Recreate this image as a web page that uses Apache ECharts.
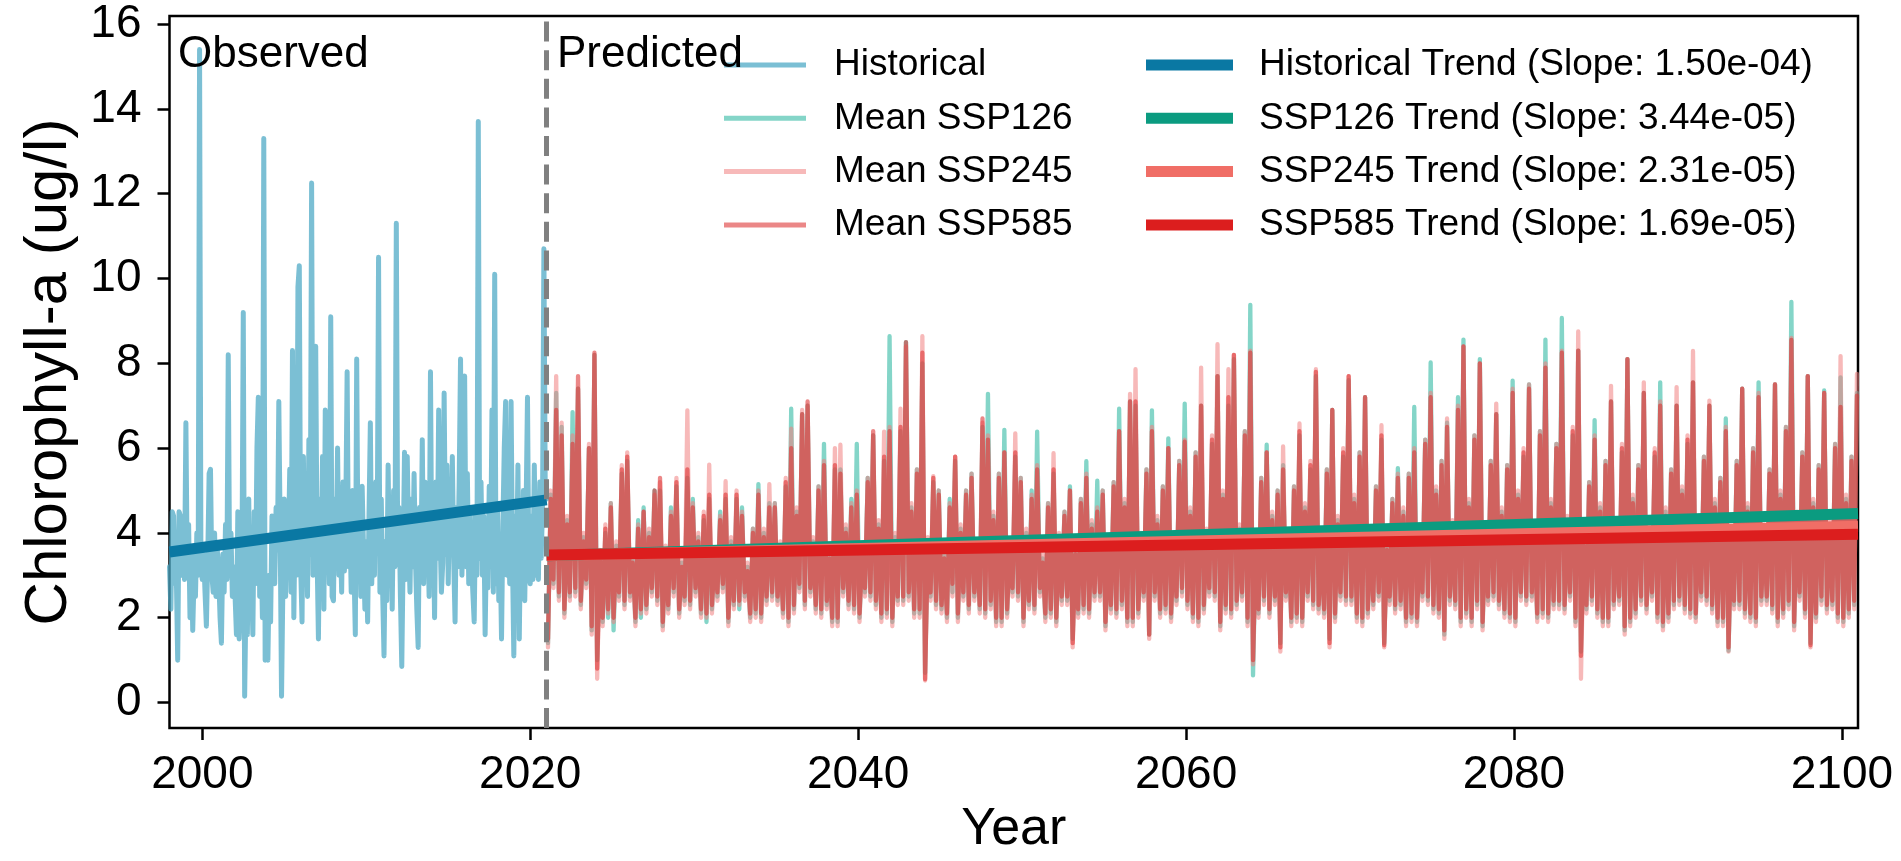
<!DOCTYPE html>
<html><head><meta charset="utf-8">
<script src="https://cdn.jsdelivr.net/npm/echarts@6/dist/echarts.min.js"></script>
<style>html,body{margin:0;padding:0;background:#fff}#c{width:1901px;height:861px}</style>
</head><body><div id="c"></div>
<script>
// ---------- DATA ----------
const histStart = 1998; // monthly values, Jan 1998 .. Jan 2021
const histValues = [
3.2,2.2,4.5,4.4,2.8,3.0,1.0,4.5,4.4,3.0,3.8,2.9,
6.6,3.0,4.2,2.0,3.5,1.7,3.0,2.5,4.0,3.0,15.4,3.2,
2.9,3.5,2.6,1.8,3.4,5.4,5.5,3.0,2.6,4.0,2.5,3.6,
3.0,2.0,1.4,3.5,2.6,4.2,2.9,8.2,3.0,4.0,2.5,3.2,
2.5,1.6,4.5,1.5,2.4,3.0,9.2,0.15,2.5,1.6,4.8,2.0,
3.0,1.6,4.5,2.8,6.0,7.2,2.5,3.8,2.0,13.3,1.0,2.5,
1.0,3.0,1.9,4.4,3.5,2.8,4.6,3.6,7.1,4.0,0.15,2.8,
4.8,2.5,4.2,3.6,5.5,2.6,8.3,2.0,4.5,3.0,9.8,10.3,
3.2,1.9,5.8,3.0,4.5,2.5,6.2,3.5,12.25,3.0,4.0,8.4,
3.5,1.5,4.8,3.0,5.8,2.2,6.9,3.3,4.2,2.8,9.1,2.5,
2.4,4.8,3.4,6.0,3.0,4.0,2.6,5.2,3.1,4.4,7.8,3.2,
4.2,2.6,5.0,3.2,1.6,8.1,3.2,4.6,2.5,5.1,3.6,2.2,
3.8,1.9,4.4,6.6,2.8,4.2,3.0,5.2,3.6,10.5,2.6,4.8,
2.6,1.1,3.8,2.4,5.6,3.0,4.4,2.2,5.0,3.2,11.3,3.6,
4.6,2.5,0.85,3.4,5.9,2.9,5.8,3.8,2.6,4.8,3.2,5.4,
3.4,2.2,1.3,4.6,3.0,6.2,2.8,5.2,3.5,4.2,2.5,7.8,
3.0,4.4,2.0,5.2,3.4,6.9,4.0,2.6,3.3,7.3,3.5,5.6,
2.8,4.8,3.6,5.8,3.4,1.9,4.6,3.2,5.2,8.1,3.0,4.2,
7.7,3.2,5.4,2.8,4.6,3.4,2.6,1.9,4.5,3.0,13.7,3.4,
5.2,3.0,4.4,1.6,3.8,2.7,5.1,3.2,6.9,2.6,10.1,2.8,
4.6,2.4,3.6,1.5,4.2,6.0,7.1,3.0,4.4,2.8,7.1,3.4,
1.1,4.4,3.0,5.6,1.5,4.2,3.2,5.0,2.4,4.6,7.2,3.0,
2.8,4.4,2.9,5.6,3.0,4.8,2.9,5.2,3.4,4.6,10.7,5.0,
4.8
];
const predStart = 2021; // 6 samples per year (bi-monthly), 2021 .. 2100
const ssp126Values = [
1.4,4.9,2.8,7.3,2.5,6.5, 2.1,4.3,2.5,6.85,2.6,7.4, 2.3,3.9,2.8,6.0,1.7,8.2, 1.0,3.5,1.9,4.0,2.0,4.7, 1.7,3.7,2.5,5.4,2.3,5.7,
2.5,3.4,1.9,4.3,2.0,4.6, 2.2,4.0,2.6,5.0,2.4,5.0, 1.8,3.6,2.2,4.6,2.6,5.1, 2.1,3.3,2.4,5.3,2.3,4.8, 2.6,3.9,2.1,4.3,1.9,4.8,
2.2,3.5,2.5,4.5,2.7,4.8, 1.9,3.8,2.3,4.8,2.2,4.6, 2.5,3.2,2.0,4.1,2.1,5.15, 2.0,4.0,2.4,4.7,2.5,4.7, 2.4,3.7,2.1,5.1,1.9,6.93,
2.2,4.5,2.7,6.8,2.3,7.0, 2.6,3.8,2.2,5.1,2.1,6.1, 2.3,3.5,1.9,5.5,1.9,5.5, 2.6,4.1,2.3,4.8,2.2,6.1, 2.0,3.6,2.6,5.3,2.5,6.3,
2.3,4.2,2.0,5.7,2.1,8.64, 1.9,3.9,2.4,6.4,2.4,8.5, 2.5,4.6,2.1,5.5,2.1,8.0, 0.7,3.8,2.5,5.2,2.3,5.0, 2.2,3.5,2.0,4.8,2.6,5.7,
2.0,4.1,2.5,5.0,2.2,5.4, 2.5,3.7,2.2,6.5,2.1,7.28, 2.3,4.4,1.9,5.4,1.9,6.43, 2.1,3.6,2.6,5.8,2.5,5.3, 1.9,4.0,2.3,5.0,2.2,6.39,
2.6,3.4,2.0,4.7,2.1,5.4, 1.9,3.9,2.4,4.5,2.4,5.1, 1.5,3.6,2.1,4.8,2.2,5.69, 2.1,4.2,2.5,5.23,2.5,5.0, 1.8,3.7,2.2,5.2,2.1,6.93,
2.3,4.7,1.9,7.1,1.9,7.0, 2.1,3.9,2.5,5.5,1.6,6.89, 2.5,4.3,2.1,5.1,2.2,6.23, 2.0,3.8,2.4,5.7,2.6,7.05, 2.3,4.5,2.0,5.9,1.9,7.0,
2.2,4.0,2.6,6.1,2.5,7.7, 1.8,4.9,2.2,7.0,2.1,8.1, 2.3,4.1,2.5,6.4,1.9,9.38, 0.64,3.7,2.1,5.3,2.4,6.08, 2.1,4.4,2.4,5.0,1.4,5.6,
2.5,3.9,1.9,5.1,2.0,6.3, 1.9,4.6,2.5,5.5,2.3,7.7, 2.2,3.8,2.1,5.5,1.5,6.9, 2.0,4.3,2.5,5.8,2.4,7.6, 2.4,4.8,2.0,5.9,1.9,7.2,
2.1,4.0,2.3,5.1,2.5,6.2, 1.4,3.7,2.4,4.8,2.2,5.53, 2.3,4.5,1.9,5.4,2.0,6.97, 1.9,3.9,2.5,6.2,2.4,8.02, 2.2,5.0,2.1,5.7,1.6,6.6,
2.4,4.2,2.3,7.2,1.9,8.56, 2.1,4.7,1.9,6.3,2.3,8.1, 1.8,4.0,2.4,5.7,2.5,6.8, 2.3,4.5,2.1,5.6,2.0,7.59, 1.9,4.9,2.5,5.8,2.4,7.5,
2.5,4.1,2.0,6.4,2.1,8.56, 2.0,4.7,2.3,6.1,2.3,9.07, 2.2,4.3,2.5,6.3,1.9,8.3, 1.2,3.8,2.2,5.2,2.4,6.66, 2.1,4.6,1.9,5.7,1.9,7.1,
2.3,4.2,2.4,5.9,1.7,8.1, 1.9,4.8,2.1,5.6,2.4,7.3, 2.2,4.0,2.5,5.8,2.0,7.55, 1.8,4.5,2.0,5.5,2.3,7.0, 2.4,5.0,2.2,6.1,2.1,7.55,
2.0,4.3,2.5,5.8,2.4,7.0, 2.2,4.7,1.9,5.3,1.9,6.7, 1.22,4.0,2.3,5.7,2.3,7.4, 2.1,4.6,2.0,6.0,1.9,7.55, 2.4,4.1,2.4,5.5,2.2,7.5,
1.9,4.9,2.1,6.5,2.3,9.45, 1.8,4.4,2.5,5.9,2.1,7.7, 1.4,4.7,2.0,5.6,2.4,7.36, 2.2,4.2,2.3,6.1,2.0,7.67, 1.9,4.8,2.1,5.8,2.3,7.3
];
const ssp245Values = [
1.3,5.0,2.7,7.7,2.4,6.6, 2.0,4.4,2.4,6.3,2.5,7.4, 2.2,4.0,2.7,6.1,1.6,8.2, 0.56,3.6,1.8,4.2,2.1,4.7, 1.9,3.8,2.4,5.6,2.2,5.9,
2.4,3.5,1.8,4.2,2.1,4.5, 2.1,4.1,2.5,4.9,2.3,5.2, 1.7,3.7,2.1,4.5,2.5,5.3, 2.0,3.4,2.3,6.89,2.2,4.7, 2.5,4.0,2.0,4.5,2.0,5.61,
2.1,3.6,2.4,4.4,2.6,5.22, 1.8,3.9,2.2,5.0,2.3,4.5, 2.4,3.3,1.9,4.1,2.0,5.0, 1.9,4.1,2.3,5.15,2.4,4.7, 2.3,3.8,2.0,5.3,1.8,6.46,
2.1,4.6,2.6,6.9,2.2,7.0, 2.5,3.9,2.1,5.1,2.0,5.7, 2.2,3.6,1.8,6.0,1.8,6.08, 2.5,4.2,2.2,4.7,2.1,5.0, 1.9,3.7,2.5,5.3,2.4,6.3,
2.2,4.3,1.9,6.39,2.0,6.5, 1.8,4.0,2.3,6.93,2.3,8.4, 2.4,4.7,2.0,5.5,2.0,8.64, 0.52,3.9,2.4,5.34,2.2,5.0, 2.1,3.6,1.9,4.7,2.5,5.8,
1.9,4.2,2.4,5.0,2.1,5.4, 2.4,3.8,2.1,6.6,2.0,6.3, 2.2,4.5,1.8,5.4,1.8,5.9, 2.0,3.7,2.5,6.35,2.4,5.3, 1.8,4.1,2.2,4.9,2.1,5.6,
2.5,3.5,1.9,4.7,2.0,5.88, 1.8,4.0,2.3,4.5,2.3,5.0, 1.3,3.7,2.0,4.8,2.1,5.4, 2.0,4.3,2.4,4.6,2.4,5.0, 1.7,3.8,2.1,5.2,2.0,6.4,
2.2,4.8,1.8,7.28,1.8,7.86, 2.0,4.0,2.4,5.5,1.5,6.5, 2.4,4.4,2.0,5.1,2.1,6.0, 1.9,3.9,2.3,5.7,2.5,6.2, 2.2,4.6,1.9,5.9,1.8,7.9,
2.1,4.1,2.5,6.3,2.4,8.45, 1.7,5.0,2.1,7.86,2.0,8.2, 2.2,4.2,2.4,6.4,1.8,8.3, 0.9,3.8,2.0,5.3,2.3,5.9, 2.0,4.5,2.3,5.0,1.2,6.04,
2.4,4.0,1.8,5.1,1.9,6.58, 1.8,4.7,2.4,5.7,2.2,7.86, 2.1,3.9,2.0,5.5,1.3,6.9, 1.9,4.4,2.4,6.0,2.3,7.7, 2.3,4.9,1.9,5.9,1.8,7.2,
2.0,4.1,2.2,5.1,2.4,6.54, 1.3,3.8,2.3,4.8,2.1,5.4, 2.2,4.6,1.8,5.4,1.9,6.0, 1.8,4.0,2.4,6.2,2.3,7.3, 2.1,5.1,2.0,5.7,1.5,6.7,
2.3,4.3,2.2,7.0,1.8,8.4, 2.0,4.8,1.8,6.3,2.2,8.0, 1.7,4.1,2.3,5.7,2.4,7.05, 2.2,4.6,2.0,5.6,1.9,7.4, 1.8,5.0,2.4,6.0,2.3,7.5,
2.4,4.2,1.9,6.4,2.0,8.0, 1.9,4.8,2.2,6.1,2.2,8.3, 2.1,4.4,2.4,6.5,1.8,8.75, 0.56,3.9,2.1,5.2,2.3,6.3, 2.0,4.7,1.8,5.7,1.8,7.47,
2.2,4.3,2.3,6.1,1.6,8.1, 1.8,4.9,2.0,5.6,2.3,7.55, 2.1,4.1,2.4,6.0,1.9,7.1, 1.7,4.6,1.9,5.5,2.2,7.44, 2.3,5.1,2.1,6.3,2.0,8.29,
1.9,4.4,2.4,5.8,2.3,7.12, 2.1,4.8,1.8,5.3,1.8,6.5, 1.2,4.1,2.2,5.7,2.2,7.4, 2.0,4.7,1.9,6.0,1.8,7.3, 2.3,4.2,2.3,5.5,2.1,7.51,
1.8,5.0,2.0,6.5,2.2,8.6, 1.7,4.5,2.4,5.9,2.0,7.7, 1.3,4.8,1.9,5.6,2.3,7.3, 2.1,4.3,2.2,6.1,1.9,8.17, 1.8,4.9,2.0,5.8,2.2,7.75
];
const ssp585Values = [
1.5,4.8,2.9,6.9,2.6,6.3, 2.2,4.2,2.6,6.1,2.7,7.7, 2.4,3.8,2.9,6.0,1.8,8.25, 0.8,3.4,2.0,4.1,2.2,4.6, 2.0,3.6,2.6,5.5,2.4,5.8,
2.6,3.3,2.0,4.1,2.2,4.5, 2.3,3.9,2.7,5.0,2.5,5.3, 1.9,3.5,2.3,4.4,2.7,5.2, 2.2,3.2,2.5,5.5,2.4,4.6, 2.7,3.8,2.2,4.4,2.1,4.9,
2.3,3.4,2.6,4.3,2.8,4.9, 2.0,3.7,2.4,4.9,2.4,4.4, 2.6,3.1,2.1,4.0,2.2,4.9, 2.1,3.9,2.5,4.6,2.6,4.6, 2.5,3.6,2.2,5.2,2.0,6.0,
2.3,4.4,2.8,6.8,2.4,7.1, 2.7,3.7,2.3,5.0,2.2,5.6, 2.4,3.4,2.0,5.6,2.0,5.4, 2.7,4.0,2.4,4.6,2.3,4.9, 2.1,3.5,2.7,5.2,2.6,6.4,
2.4,4.1,2.1,5.8,2.2,6.4, 2.0,3.8,2.5,6.5,2.5,8.5, 2.6,4.5,2.2,5.4,2.2,8.25, 0.55,3.7,2.6,5.3,2.4,4.9, 2.3,3.4,2.1,4.6,2.8,5.8,
2.1,4.0,2.6,4.9,2.3,5.3, 2.6,3.6,2.3,6.7,2.2,6.2, 2.4,4.3,2.0,5.3,2.0,5.9, 2.2,3.5,2.7,5.9,2.6,5.2, 2.0,3.9,2.4,4.8,2.3,5.5,
2.7,3.3,2.1,4.6,2.2,5.5, 2.0,3.8,2.5,4.4,2.5,5.0, 1.4,3.5,2.2,4.7,2.3,5.3, 2.2,4.1,2.6,4.5,2.6,4.9, 1.9,3.6,2.3,5.1,2.2,6.4,
2.4,4.6,2.0,7.1,2.0,7.1, 2.2,3.8,2.6,5.4,1.6,6.4, 2.6,4.2,2.2,5.0,2.3,6.0, 2.1,3.7,2.5,5.6,2.7,6.15, 2.4,4.4,2.1,5.8,2.0,7.0,
2.3,3.9,2.7,6.2,2.6,7.7, 1.9,4.8,2.3,7.2,2.2,8.2, 2.4,4.0,2.6,6.3,2.0,8.25, 1.0,3.6,2.2,5.2,2.5,5.9, 2.2,4.3,2.5,4.9,1.3,5.5,
2.6,3.8,2.0,5.0,2.1,6.4, 2.0,4.5,2.6,5.6,2.4,7.8, 2.3,3.7,2.2,5.4,1.4,6.9, 2.1,4.2,2.6,5.9,2.5,7.7, 2.5,4.7,2.1,5.8,2.0,7.2,
2.2,3.9,2.4,5.0,2.6,6.3, 1.35,3.6,2.5,4.7,2.3,5.3, 2.4,4.4,2.0,5.3,2.1,5.9, 2.0,3.8,2.6,6.1,2.5,7.2, 2.3,4.9,2.2,5.6,1.7,6.5,
2.5,4.1,2.4,6.9,2.0,8.4, 2.2,4.6,2.0,6.2,2.4,8.0, 1.9,3.9,2.5,5.6,2.6,6.8, 2.4,4.4,2.2,5.5,2.1,7.3, 2.0,4.8,2.6,5.9,2.5,7.4,
2.6,4.0,2.1,6.3,2.2,7.9, 2.1,4.6,2.4,6.0,2.4,8.25, 2.3,4.2,2.6,6.4,2.0,8.3, 1.1,3.7,2.3,5.1,2.5,6.2, 2.2,4.5,2.0,5.6,2.0,7.1,
2.4,4.1,2.5,6.0,1.8,8.1, 2.0,4.7,2.2,5.5,2.5,7.3, 2.3,3.9,2.6,5.9,2.1,7.0, 1.9,4.4,2.1,5.4,2.4,7.0, 2.5,4.9,2.3,6.2,2.2,7.55,
2.1,4.2,2.6,5.7,2.5,7.0, 2.3,4.6,2.0,5.2,2.0,6.4, 1.3,3.9,2.4,5.6,2.4,7.4, 2.2,4.5,2.1,5.9,2.0,7.2, 2.5,4.0,2.5,5.4,2.3,7.5,
2.0,4.8,2.2,6.4,2.4,8.55, 1.9,4.3,2.6,5.8,2.2,7.7, 1.35,4.6,2.1,5.5,2.5,7.3, 2.3,4.1,2.4,6.0,2.1,6.97, 2.0,4.7,2.2,5.7,2.4,7.24
];
// regression lines: [x, y] end points (x in years)
const histTrend   = [[1998.0, 3.55], [2021.0, 4.78]];
const ssp126Trend = [[2021.0, 3.46], [2100.98, 4.46]];
const ssp245Trend = [[2021.0, 3.47], [2100.98, 4.16]];
const ssp585Trend = [[2021.0, 3.48], [2100.98, 3.97]];
const splitYear = 2021;
const xTicks = [2000, 2020, 2040, 2060, 2080, 2100];
const yTicks = [0, 2, 4, 6, 8, 10, 12, 14, 16];
const meanNames  = ['Historical', 'Mean SSP126', 'Mean SSP245', 'Mean SSP585'];
const trendNames = ['Historical Trend (Slope: 1.50e-04)', 'SSP126 Trend (Slope: 3.44e-05)',
                    'SSP245 Trend (Slope: 2.31e-05)', 'SSP585 Trend (Slope: 1.69e-05)'];

// ---------- CHART ----------
const FONT = '"Liberation Sans", Arial, Helvetica, sans-serif';
const histData = histValues.map((v, i) => [histStart + i / 12, v]);
const pred = arr => arr.map((v, i) => [predStart + (i + 0.5) / 6, v]);

function meanSeries(name, data, color, width) {
  return { name, type: 'line', data, symbol: 'none', showSymbol: false, silent: true,
    itemStyle: { color }, lineStyle: { color, width, cap: 'round', join: 'round' } };
}
function trendSeries(name, data, color) {
  return { name, type: 'line', data, symbol: 'none', showSymbol: false, silent: true,
    itemStyle: { color }, lineStyle: { color, width: 11, cap: 'butt' } };
}

const series = [
  meanSeries(meanNames[0], histData, 'rgba(79,169,198,0.75)', 5),
  meanSeries(meanNames[1], pred(ssp126Values), 'rgba(31,179,154,0.55)', 4.3),
  meanSeries(meanNames[2], pred(ssp245Values), 'rgba(240,128,128,0.55)', 4.3),
  meanSeries(meanNames[3], pred(ssp585Values), 'rgba(221,48,48,0.58)', 4.3),
  trendSeries(trendNames[0], histTrend, '#0a78a3'),
  trendSeries(trendNames[1], ssp126Trend, '#0b9b80'),
  trendSeries(trendNames[2], ssp245Trend, '#f06e66'),
  trendSeries(trendNames[3], ssp585Trend, '#dc1e1e')
];
series[7].markLine = {
  silent: true, symbol: ['none', 'none'], label: { show: false },
  lineStyle: { color: '#808080', width: 5, type: [20, 8.6], opacity: 1 },
  data: [{ xAxis: splitYear }]
};

const legendText = pad => ({ fontSize: 37, lineHeight: 40, color: '#000', fontFamily: FONT, padding: [0, 0, 0, pad] });
const option = {
  animation: false,
  backgroundColor: '#fff',
  grid: { left: 169.5, right: 43, top: 16, bottom: 124, show: true, borderColor: '#000', borderWidth: 2.5, backgroundColor: 'transparent' },
  xAxis: {
    type: 'value', min: 1998.0, max: 2100.98,
    axisLine: { show: false, onZero: false }, splitLine: { show: false },
    axisTick: { show: true, inside: false, customValues: xTicks, length: 12, lineStyle: { color: '#000', width: 2.5 } },
    axisLabel: { customValues: xTicks, fontSize: 46, color: '#000', fontFamily: FONT, margin: 24, formatter: v => String(v) },
    name: 'Year', nameLocation: 'middle', nameGap: 76,
    nameTextStyle: { fontSize: 52, color: '#000', fontFamily: FONT }
  },
  yAxis: {
    type: 'value', min: -0.6, max: 16.19,
    axisLine: { show: false, onZero: false }, splitLine: { show: false },
    axisTick: { show: true, inside: false, customValues: yTicks, length: 12, lineStyle: { color: '#000', width: 2.5 } },
    axisLabel: { customValues: yTicks, fontSize: 46, color: '#000', fontFamily: FONT, margin: 28, formatter: v => String(v) },
    name: 'Chlorophyll-a (ug/l)', nameLocation: 'middle', nameGap: 82,
    nameTextStyle: { fontSize: 60, color: '#000', fontFamily: FONT }
  },
  legend: [
    { left: 724, top: 45, padding: 0, orient: 'vertical', icon: 'rect', itemWidth: 82, itemHeight: 5,
      itemGap: 13.3, selectedMode: false, textStyle: legendText(23), data: meanNames },
    { left: 1146, top: 45, padding: 0, orient: 'vertical', icon: 'rect', itemWidth: 87, itemHeight: 11,
      itemGap: 13.3, selectedMode: false, textStyle: legendText(21), data: trendNames }
  ],
  graphic: [
    { type: 'text', x: 178, y: 55, z: 100, style: { text: 'Observed', fontSize: 44, fontFamily: FONT, fill: '#000', verticalAlign: 'middle' } },
    { type: 'text', x: 557, y: 55, z: 100, style: { text: 'Predicted', fontSize: 44, fontFamily: FONT, fill: '#000', verticalAlign: 'middle' } }
  ],
  series
};
const chart = echarts.init(document.getElementById('c'), null, { renderer: 'canvas' });
chart.setOption(option);
</script>
</body></html>
